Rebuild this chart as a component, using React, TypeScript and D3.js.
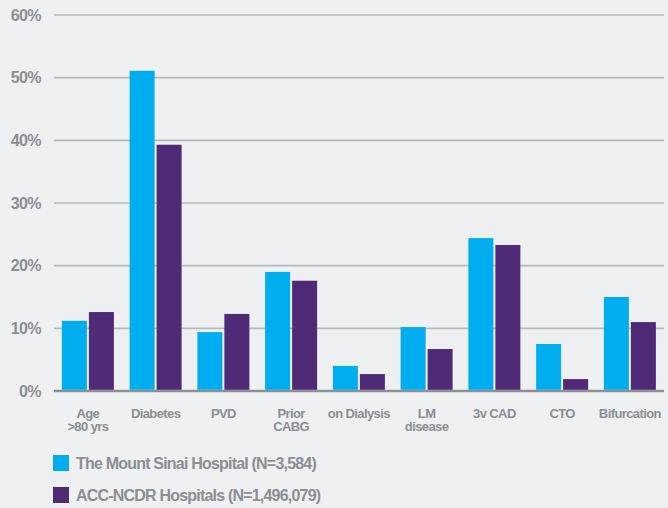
import React from "react";
import * as d3 from "d3";

const categories = [
  ["Age", ">80 yrs"],
  ["Diabetes"],
  ["PVD"],
  ["Prior", "CABG"],
  ["on Dialysis"],
  ["LM", "disease"],
  ["3v CAD"],
  ["CTO"],
  ["Bifurcation"],
];
const sinaiValues = [11.2, 51.1, 9.4, 19.0, 4.0, 10.2, 24.4, 7.5, 15.0];
const ncdrValues = [12.6, 39.3, 12.3, 17.6, 2.7, 6.7, 23.3, 1.9, 11.0];
const yTicks = [0, 10, 20, 30, 40, 50, 60];
const seriesNames = ["The Mount Sinai Hospital (N=3,584)", "ACC-NCDR Hospitals (N=1,496,079)"];
const colors = ["#00adee", "#4f2a76"];

const W = 668;
const H = 508;
const FONT = "'Liberation Sans', Arial, sans-serif";
const GREY = "#8b8e93";

export default function App() {
  const x = d3
    .scaleBand<number>()
    .domain(categories.map((_, i) => i))
    .range([54, 663.75])
    .paddingInner(0)
    .paddingOuter(0);
  const y = d3.scaleLinear().domain([0, 60]).range([391, 15]);
  const barW = 25;
  const gap = 2;
  const series = [sinaiValues, ncdrValues];

  return (
    <div style={{ position: "absolute", left: 0, top: 0 }}>
      <svg width={W} height={H} style={{ display: "block", background: "#eff0f2" }}>
        <rect x={0} y={0} width={W} height={H} fill="#eff0f2" />
        {yTicks.map((t) => (
          <g key={t}>
            <line
              x1={54}
              x2={664}
              y1={y(t)}
              y2={y(t)}
              stroke={t === 0 ? "#8e9095" : "#b9babd"}
              strokeWidth={t === 0 ? 2.5 : 1.6}
            />
            <text
              x={41}
              y={y(t)}
              dy="0.35em"
              textAnchor="end"
              fontFamily={FONT}
              fontWeight="bold"
              fontSize={16}
              fill={GREY}
              letterSpacing={-0.6}
            >
              {t}%
            </text>
          </g>
        ))}
        {categories.map((c, i) => {
          const cx = (x(i) as number) + x.bandwidth() / 2;
          return (
            <g key={i}>
              {series.map((vals, s) => (
                <rect
                  key={s}
                  x={cx - barW - gap / 2 + s * (barW + gap)}
                  y={y(vals[i])}
                  width={barW}
                  height={y(0) - y(vals[i]) - 1.2}
                  fill={colors[s]}
                />
              ))}
              {c.map((line, li) => (
                <text
                  key={li}
                  x={cx}
                  y={417.5 + li * 13.5}
                  textAnchor="middle"
                  fontFamily={FONT}
                  fontWeight="bold"
                  fontSize={13}
                  fill={GREY}
                  letterSpacing={-0.6}
                >
                  {line}
                </text>
              ))}
            </g>
          );
        })}
        {seriesNames.map((n, s) => (
          <g key={n}>
            <rect x={53} y={455 + s * 32} width={16} height={16} fill={colors[s]} />
            <text
              x={76}
              y={463 + s * 32}
              dy="0.35em"
              fontFamily={FONT}
              fontWeight="bold"
              fontSize={16}
              fill={GREY}
              letterSpacing={-0.8}
            >
              {n}
            </text>
          </g>
        ))}
      </svg>
    </div>
  );
}
